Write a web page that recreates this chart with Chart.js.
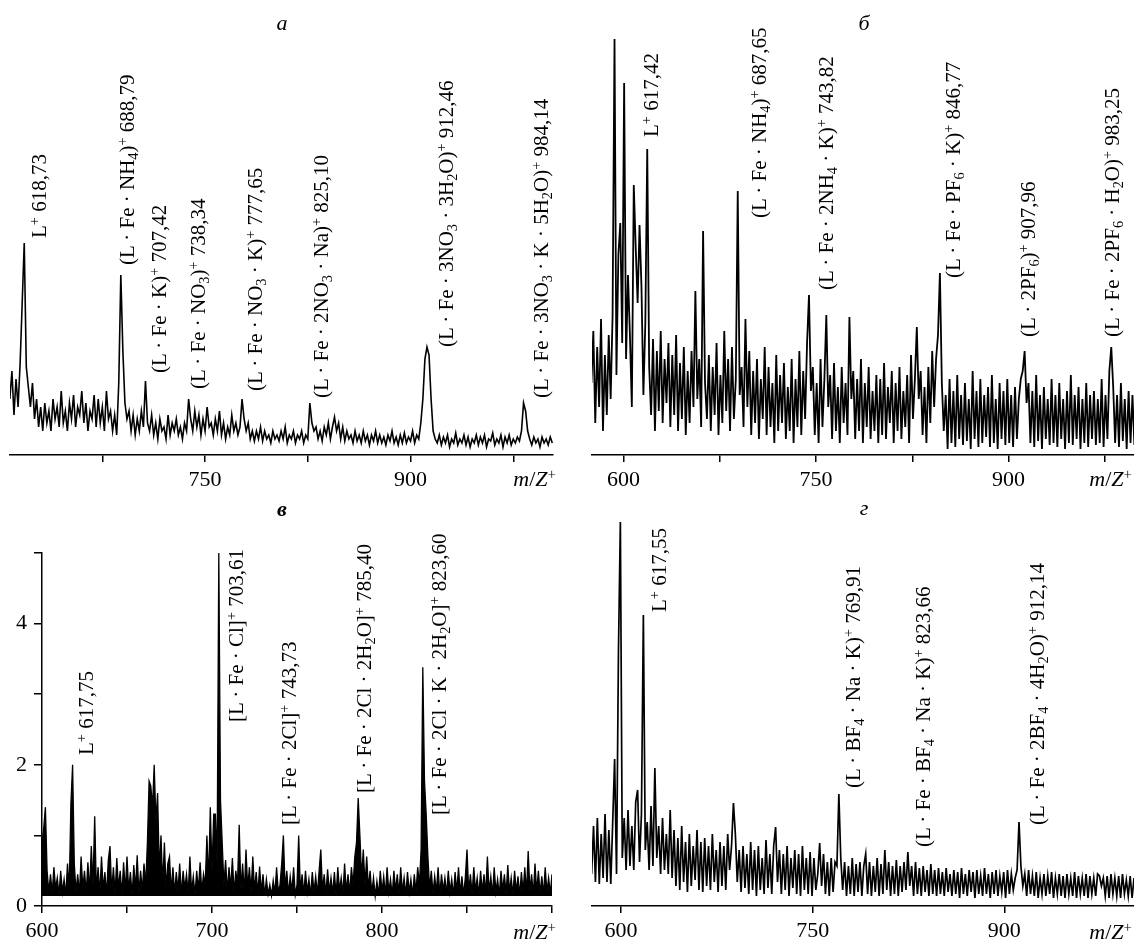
<!DOCTYPE html>
<html lang="ru">
<head>
<meta charset="utf-8">
<title>Масс-спектры</title>
<script src="https://cdn.jsdelivr.net/npm/chart.js@4.4.1/dist/chart.umd.min.js"></script>
<style>
  html, body { margin: 0; padding: 0; background: #fff; }
  #page { position: relative; width: 1134px; height: 941px; overflow: hidden;
          font-family: 'Liberation Serif', 'Times New Roman', serif; color: #000; }
  canvas { position: absolute; }
  .title { position: absolute; width: 40px; margin-left: -20px; text-align: center;
           font-size: 22px; line-height: 22px; font-style: italic; }
  .axis-name { position: absolute; font-size: 22px; line-height: 22px; white-space: nowrap; }
  .peak { position: absolute; font-size: 21px; line-height: 20px; white-space: nowrap;
          transform-origin: 0 0; transform: rotate(-90deg); }
  sub, sup { font-size: 0.68em; line-height: 0; position: relative; vertical-align: baseline; }
  sup { top: -0.5em; }
  sub { top: 0.3em; }
</style>
</head>
<body>
<div id="page">
  <canvas id="cA" width="567" height="490" style="left:0;top:0"></canvas>
  <canvas id="cB" width="567" height="490" style="left:567px;top:0"></canvas>
  <canvas id="cC" width="567" height="451" style="left:0;top:490px"></canvas>
  <canvas id="cD" width="567" height="451" style="left:567px;top:490px"></canvas>

  <div class="title" style="left:282px;top:12px">а</div>
  <div class="title" style="left:864px;top:12px">б</div>
  <div class="title" style="left:282px;top:498px;font-weight:bold">в</div>
  <div class="title" style="left:864px;top:497px">г</div>

  <div class="axis-name" style="right:578px;top:468px"><i>m</i>/<i>Z</i><sup>+</sup></div>
  <div class="axis-name" style="right:2px;top:468px"><i>m</i>/<i>Z</i><sup>+</sup></div>
  <div class="axis-name" style="right:578px;top:921px"><i>m</i>/<i>Z</i><sup>+</sup></div>
  <div class="axis-name" style="right:2px;top:921px"><i>m</i>/<i>Z</i><sup>+</sup></div>
</div>
<script>
// =====================================================================
// DATA (intensities, regular m/z grid per panel)
// =====================================================================

// ── Panel а ───────────────────────────────────────────────────────
const aStart = 607.5, aStep = 1.5;
const aIntensity = [
  14, 21, 10, 19, 12, 23, 38, 53, 22, 17,
  12, 18, 9, 14, 7, 12, 6, 13, 8, 11,
  6, 14, 9, 12, 7, 16, 8, 11, 6, 13,
  9, 15, 7, 12, 10, 16, 8, 13, 6, 11,
  9, 15, 7, 14, 8, 12, 6, 16, 9, 11,
  6, 10, 5, 18, 45, 26, 13, 9, 11, 6,
  10, 5, 9, 6, 11, 7, 18.5, 8, 6, 10,
  5, 8, 4, 9, 6, 7, 4, 10, 5, 8,
  6, 9, 5, 7, 4, 8, 6, 14, 9, 6,
  11, 7, 10, 5, 9, 6, 12, 7, 8, 5,
  9, 6, 11, 5, 8, 4, 7, 5, 10, 6,
  8, 5, 7, 14, 9, 6, 8, 4, 6, 3.5,
  6, 4, 7, 3.5, 6, 4, 5, 3, 6, 4,
  5, 3.5, 6, 4, 7, 3, 5, 4, 6, 3,
  5, 4, 6, 3, 5, 4, 13, 8, 6, 7,
  4, 6, 3.5, 7, 5, 8, 4, 7, 9.5, 6,
  8, 4, 7, 3.5, 6, 4, 5, 3, 6, 3.5,
  5, 3, 6, 3.5, 5, 2.5, 5, 3.5, 6, 3,
  5, 3, 4.5, 2.5, 5, 3.5, 6, 3, 4.5, 2.5,
  5, 3, 5.5, 3, 4.5, 3.5, 6, 3, 5, 4,
  8, 14, 24, 27, 25, 14, 6, 4, 3, 5,
  2.5, 4.5, 3, 5, 2, 4, 3, 5.5, 2.5, 4,
  3, 5, 2.5, 4.5, 2, 4, 3, 5, 2.5, 4.5,
  3, 5, 2, 4, 3.5, 5.5, 2.5, 4, 3, 5,
  2, 4.5, 3, 5, 2.5, 4, 3, 4.5, 3.5, 6,
  13, 11, 6, 4, 2.5, 4.5, 3, 4, 2, 4.5,
  3, 4, 2.5, 4.5, 3
];
const aTicks = [675, 750, 825, 900, 975];
const aTickLabels = [750, 900];

// ── Panel б ───────────────────────────────────────────────────────
const bStart = 575, bStep = 1.5;
const bIntensity = [
  18, 31, 8, 27, 12, 34, 6, 25, 10, 30,
  14, 35, 104, 20, 50, 58, 28, 93, 24, 45,
  30, 12, 67.5, 52, 38, 57.5, 42, 15, 33, 76.5,
  22, 10, 29, 6, 26, 11, 31, 8, 24, 13,
  28, 7, 25, 10, 30, 6, 23, 9, 27, 5,
  21, 8, 26, 12, 41, 14, 24, 7, 56, 18,
  9, 25, 6, 22, 10, 28, 5, 20, 8, 31,
  11, 24, 6, 27, 9, 19, 66, 15, 22, 7,
  34, 12, 26, 5, 21, 8, 24, 4, 19, 9,
  27, 5, 22, 7, 18, 3, 25, 6, 20, 8,
  23, 4, 17, 6, 24, 3, 19, 7, 26, 5,
  21, 9, 28, 40, 16, 22, 5, 18, 3, 24,
  7, 19, 35, 12, 20, 4, 23, 6, 17, 3,
  22, 8, 18, 5, 34.5, 14, 21, 4, 19, 6,
  24, 3, 18, 7, 22, 4, 16, 6, 20, 3,
  19, 5, 23, 4, 17, 8, 21, 3, 18, 6,
  22, 4, 16, 7, 20, 3, 25, 9, 19, 32,
  14, 21, 5, 17, 3, 22, 8, 26, 12, 24,
  30, 45.5, 18, 6, 15, 1.5, 19, 3, 16, 2,
  20, 4, 15, 2.5, 18, 3.5, 14, 1.5, 21, 4,
  16, 2, 19, 3, 15, 4.5, 17, 2, 20, 3,
  14, 1.5, 18, 4, 16, 2.5, 19, 3, 15, 2,
  17, 4, 14, 19, 21, 26, 13, 18, 3, 16,
  2, 20, 3.5, 15, 1.5, 17, 4, 14, 2.5, 19,
  3, 15, 2, 18, 4, 14, 1.5, 16, 3, 20,
  2.5, 15, 4, 17, 1.5, 14, 3, 18, 2, 15,
  4, 16, 2.5, 14, 3, 19, 2, 15, 4, 21,
  27, 17, 3, 15, 2, 18, 3.5, 14, 1.5, 16,
  3, 15, 2.5
];
const bTicks = [600, 675, 750, 825, 900, 975];
const bTickLabels = [600, 750, 900];

// ── Panel в ───────────────────────────────────────────────────────
const cStart = 600, cStep = 1;
const cIntensity = [
  0.9, 1.1, 1.4, 0.5, 0.2, 0.45, 0.18, 0.55, 0.25, 0.4,
  0.16, 0.5, 0.2, 0.38, 0.15, 0.6, 0.22, 1.45, 2.0, 0.6,
  0.2, 0.45, 0.17, 0.7, 0.25, 0.5, 0.18, 0.62, 0.2, 0.85,
  0.3, 1.27, 0.22, 0.55, 0.17, 0.7, 0.24, 0.48, 0.16, 0.65,
  0.85, 0.2, 0.55, 0.18, 0.68, 0.25, 0.5, 0.16, 0.62, 0.2,
  0.7, 0.22, 0.48, 0.15, 0.58, 0.24, 0.72, 0.18, 0.5, 0.22,
  0.6, 0.3, 0.9, 1.77, 1.7, 1.4, 2.0, 1.2, 1.6, 0.5,
  1.0, 0.3, 0.9, 0.25, 0.6, 0.7, 0.2, 0.55, 0.18, 0.48,
  0.22, 0.6, 0.16, 0.5, 0.25, 0.45, 0.18, 0.7, 0.2, 0.42,
  0.16, 0.5, 0.22, 0.62, 0.2, 0.45, 0.3, 1.0, 0.35, 1.4,
  0.5, 1.3, 1.3, 0.6, 5.0, 1.5, 0.9, 0.3, 0.65, 0.2,
  0.55, 0.25, 0.68, 0.18, 0.5, 0.3, 1.15, 0.22, 0.6, 0.18,
  0.8, 0.25, 0.55, 0.2, 0.7, 0.22, 0.48, 0.17, 0.56, 0.2,
  0.45, 0.15, 0.38, 0.17, 0.3, 0.15, 0.36, 0.18, 0.55, 0.2,
  0.3, 0.6, 1.0, 0.25, 0.5, 0.17, 0.42, 0.2, 0.55, 0.16,
  0.3, 1.0, 0.22, 0.45, 0.17, 0.5, 0.2, 0.38, 0.15, 0.48,
  0.2, 0.42, 0.17, 0.5, 0.8, 0.22, 0.45, 0.16, 0.52, 0.2,
  0.4, 0.18, 0.48, 0.15, 0.55, 0.22, 0.4, 0.17, 0.6, 0.2,
  0.45, 0.18, 0.55, 0.3, 0.7, 0.9, 1.53, 1.0, 0.4, 0.8,
  0.3, 0.7, 0.25, 0.5, 0.18, 0.4, 0.14, 0.35, 0.16, 0.5,
  0.2, 0.42, 0.16, 0.55, 0.2, 0.38, 0.15, 0.5, 0.22, 0.45,
  0.17, 0.55, 0.2, 0.4, 0.16, 0.48, 0.2, 0.38, 0.15, 0.45,
  0.2, 0.55, 0.3, 0.8, 3.38, 1.77, 1.3, 0.7, 0.25, 0.5,
  0.18, 0.42, 0.2, 0.55, 0.16, 0.45, 0.22, 0.4, 0.17, 0.5,
  0.2, 0.38, 0.15, 0.48, 0.2, 0.55, 0.18, 0.42, 0.16, 0.4,
  0.8, 0.2, 0.45, 0.17, 0.55, 0.22, 0.4, 0.15, 0.5, 0.2,
  0.45, 0.18, 0.7, 0.2, 0.42, 0.16, 0.55, 0.2, 0.38, 0.15,
  0.5, 0.22, 0.45, 0.17, 0.58, 0.2, 0.4, 0.16, 0.5, 0.2,
  0.42, 0.15, 0.48, 0.2, 0.55, 0.18, 0.78, 0.22, 0.45, 0.16,
  0.6, 0.2, 0.5, 0.18, 0.42, 0.16, 0.55, 0.2, 0.4, 0.18,
  0.45
];
const cTicks = [600, 650, 700, 750, 800, 850, 900];
const cTickLabels = [600, 700, 800];
const cYLabels = [0, 2, 4];

// ── Panel г ───────────────────────────────────────────────────────
const dStart = 577, dStep = 1.5;
const dIntensity = [
  8, 20, 6, 22, 5.5, 18, 7, 23, 6, 19,
  5.5, 21, 36.75, 8, 63.5, 96, 12, 22, 9, 24,
  10, 20, 9, 26, 29, 11, 23, 72.75, 14, 21,
  9, 25, 10, 34.5, 12, 20, 8, 22, 9, 18,
  8, 24, 7, 19, 5, 17, 4, 20, 6, 16,
  3.5, 18, 5, 15, 6.5, 19, 4, 16, 3.5, 17,
  5, 15, 4, 18, 6, 14, 3.5, 16, 5, 15,
  4, 18, 9, 15, 25.75, 18, 6, 14, 3.5, 15,
  4.5, 13, 3, 16, 4, 14, 2.5, 15, 4, 12,
  3, 16.5, 4.5, 13, 3, 15, 19.75, 6, 14, 3,
  13, 4, 15, 2.5, 12, 4.5, 14, 3, 13, 2.5,
  15, 4, 12, 3, 13.5, 2.5, 12, 4, 8, 15.75,
  5, 13, 3, 11, 2.5, 12, 3.5, 11, 10, 28,
  12, 4, 11, 2.5, 10, 3, 12, 2.5, 10.5, 3.5,
  11, 2.5, 10, 13, 3, 11, 2.5, 10, 3.5, 12,
  2.5, 10.5, 3, 14, 4, 11, 2.5, 10, 3, 11.5,
  2.5, 10, 3.5, 11, 4, 13.5, 5, 10, 2.5, 11,
  3, 9.5, 2.5, 10, 3.5, 9, 2.5, 10.5, 3, 9,
  2.5, 9.5, 3, 8.5, 2.5, 9.5, 3.5, 8, 2.5, 9,
  3, 8.5, 2, 9.5, 3, 8, 2.5, 9, 3.5, 8.5,
  2, 9, 3, 7.5, 2.5, 9.5, 3, 8, 2, 8.5,
  3, 9, 2.5, 7.5, 3.5, 8.5, 2, 9, 3, 8,
  4, 7, 9, 21, 10, 5, 8, 2.5, 9, 3,
  7.5, 2.5, 8.5, 2, 7, 3, 8, 2.5, 7.5, 3,
  8.5, 2, 7, 3, 8, 2.5, 7.5, 2, 8, 3,
  7, 2.5, 8.5, 2, 7.5, 3, 7, 2.5, 8, 2,
  7.5, 3, 7, 2.5, 8, 7.5, 5, 7, 2.5, 7.5,
  2, 8, 3, 7, 2.5, 7.5, 2, 8, 3, 6.5,
  2.5, 7.5, 2, 7
];
const dTicks = [600, 750, 900];
const dTickLabels = [600, 750, 900];

// ── Peak annotations: [html, centre x, bottom y] ──────────────────
const aPeakLabels = [
  ['L<sup>+</sup> 618,73', 39, 238],
  ['(L · Fe · NH<sub>4</sub>)<sup>+</sup> 688,79', 127, 265],
  ['(L · Fe · K)<sup>+</sup> 707,42', 159, 373],
  ['(L · Fe · NO<sub>3</sub>)<sup>+</sup> 738,34', 198, 389],
  ['(L · Fe · NO<sub>3</sub> · K)<sup>+</sup> 777,65', 255, 391],
  ['(L · Fe · 2NO<sub>3</sub> · Na)<sup>+</sup> 825,10', 321, 398],
  ['(L · Fe · 3NO<sub>3</sub> · 3H<sub>2</sub>O)<sup>+</sup> 912,46', 446, 347],
  ['(L · Fe · 3NO<sub>3</sub> · K · 5H<sub>2</sub>O)<sup>+</sup> 984,14', 541, 398],
];
const bPeakLabels = [
  ['L<sup>+</sup> 617,42', 651, 137],
  ['(L · Fe · NH<sub>4</sub>)<sup>+</sup> 687,65', 759, 218],
  ['(L · Fe · 2NH<sub>4</sub> · K)<sup>+</sup> 743,82', 826, 290],
  ['(L · Fe · PF<sub>6</sub> · K)<sup>+</sup> 846,77', 953, 278],
  ['(L · 2PF<sub>6</sub>)<sup>+</sup> 907,96', 1028, 337],
  ['(L · Fe · 2PF<sub>6</sub> · H<sub>2</sub>O)<sup>+</sup> 983,25', 1112, 337],
];
const cPeakLabels = [
  ['L<sup>+</sup> 617,75', 86, 755],
  ['[L · Fe · Cl]<sup>+</sup> 703,61', 236, 722],
  ['[L · Fe · 2Cl]<sup>+</sup> 743,73', 289, 825],
  ['[L · Fe · 2Cl · 2H<sub>2</sub>O]<sup>+</sup> 785,40', 364, 793],
  ['[L · Fe · 2Cl · K · 2H<sub>2</sub>O]<sup>+</sup> 823,60', 439, 815],
];
const dPeakLabels = [
  ['L<sup>+</sup> 617,55', 659, 612],
  ['(L · BF<sub>4</sub> · Na · K)<sup>+</sup> 769,91', 853, 788],
  ['(L · Fe · BF<sub>4</sub> · Na · K)<sup>+</sup> 823,66', 923, 847],
  ['(L · Fe · 2BF<sub>4</sub> · 4H<sub>2</sub>O)<sup>+</sup> 912,14', 1037, 825],
];

// =====================================================================
// RENDERING
// =====================================================================

const FONT = { family: "'Liberation Serif', 'Times New Roman', serif", size: 22 };
const INK  = '#000';

/**
 * Build one spectrum panel on a fixed-size canvas.
 * The axes have fixed sizes so the plot area lands where the figure has it.
 */
function spectrum(id, cfg) {
  const data = cfg.values.map((y, i) => ({ x: cfg.start + i * cfg.step, y }));

  const yScale = cfg.yLabels
    ? {
        min: 0, max: cfg.yMax,
        afterFit: s => { s.width = 42; },
        ticks: {
          stepSize: 1, padding: 7, color: INK, font: FONT,
          callback: v => cfg.yLabels.includes(v) ? String(v) : '',
        },
        grid:   { drawOnChartArea: false, tickLength: 8, color: INK, lineWidth: 1.5 },
        border: { color: INK, width: 1.5 },
      }
    : { display: false, min: 0, max: cfg.yMax };

  return new Chart(document.getElementById(id), {
    type: 'line',
    data: {
      datasets: [{
        data,
        borderColor: INK,
        borderWidth: cfg.lineWidth,
        pointRadius: 0,
        tension: 0,
        fill: cfg.fill || false,
        backgroundColor: INK,
      }],
    },
    options: {
      responsive: false,
      animation: false,
      devicePixelRatio: 1,
      layout: { padding: cfg.padding },
      plugins: { legend: { display: false }, tooltip: { enabled: false } },
      scales: {
        x: {
          type: 'linear',
          min: cfg.xMin, max: cfg.xMax,
          afterBuildTicks: s => { s.ticks = cfg.ticks.map(v => ({ value: v })); },
          afterFit: s => { s.height = 35; },
          ticks: {
            autoSkip: false, maxRotation: 0, padding: 5, color: INK, font: FONT,
            callback: v => cfg.tickLabels.includes(v) ? String(v) : '',
          },
          grid:   { drawOnChartArea: false, tickLength: 7, color: INK, lineWidth: 1.5 },
          border: { color: INK, width: 1.5 },
        },
        y: yScale,
      },
    },
  });
}

/** Rotated (bottom-to-top) peak captions as real HTML text. */
function addPeakLabels(list) {
  const page = document.getElementById('page');
  list.forEach(([html, cx, bottom]) => {
    const el = document.createElement('div');
    el.className = 'peak';
    el.innerHTML = html;
    el.style.left = (cx - 10) + 'px';
    el.style.top  = bottom + 'px';
    page.appendChild(el);
  });
}

spectrum('cA', {
  values: aIntensity, start: aStart, step: aStep,
  xMin: 607.6, xMax: 1004, yMax: 105, lineWidth: 1.6,
  ticks: aTicks, tickLabels: aTickLabels,
  padding: { left: 10, right: 14, top: 35, bottom: 0 },
});

spectrum('cB', {
  values: bIntensity, start: bStart, step: bStep,
  xMin: 575.46, xMax: 997.7, yMax: 105, lineWidth: 1.8,
  ticks: bTicks, tickLabels: bTickLabels,
  padding: { left: 25, right: 0, top: 35, bottom: 0 },
});

spectrum('cC', {
  values: cIntensity, start: cStart, step: cStep,
  xMin: 600, xMax: 900, yMax: 5, lineWidth: 1.3,
  ticks: cTicks, tickLabels: cTickLabels, yLabels: cYLabels,
  fill: { value: 0.14 },
  padding: { left: 0, right: 15, top: 63, bottom: 0 },
});

spectrum('cD', {
  values: dIntensity, start: dStart, step: dStep,
  xMin: 577.3, xMax: 1001.5, yMax: 97, lineWidth: 1.7,
  ticks: dTicks, tickLabels: dTickLabels,
  padding: { left: 25, right: 0, top: 28, bottom: 0 },
});

addPeakLabels(aPeakLabels);
addPeakLabels(bPeakLabels);
addPeakLabels(cPeakLabels);
addPeakLabels(dPeakLabels);
</script>
</body>
</html>
